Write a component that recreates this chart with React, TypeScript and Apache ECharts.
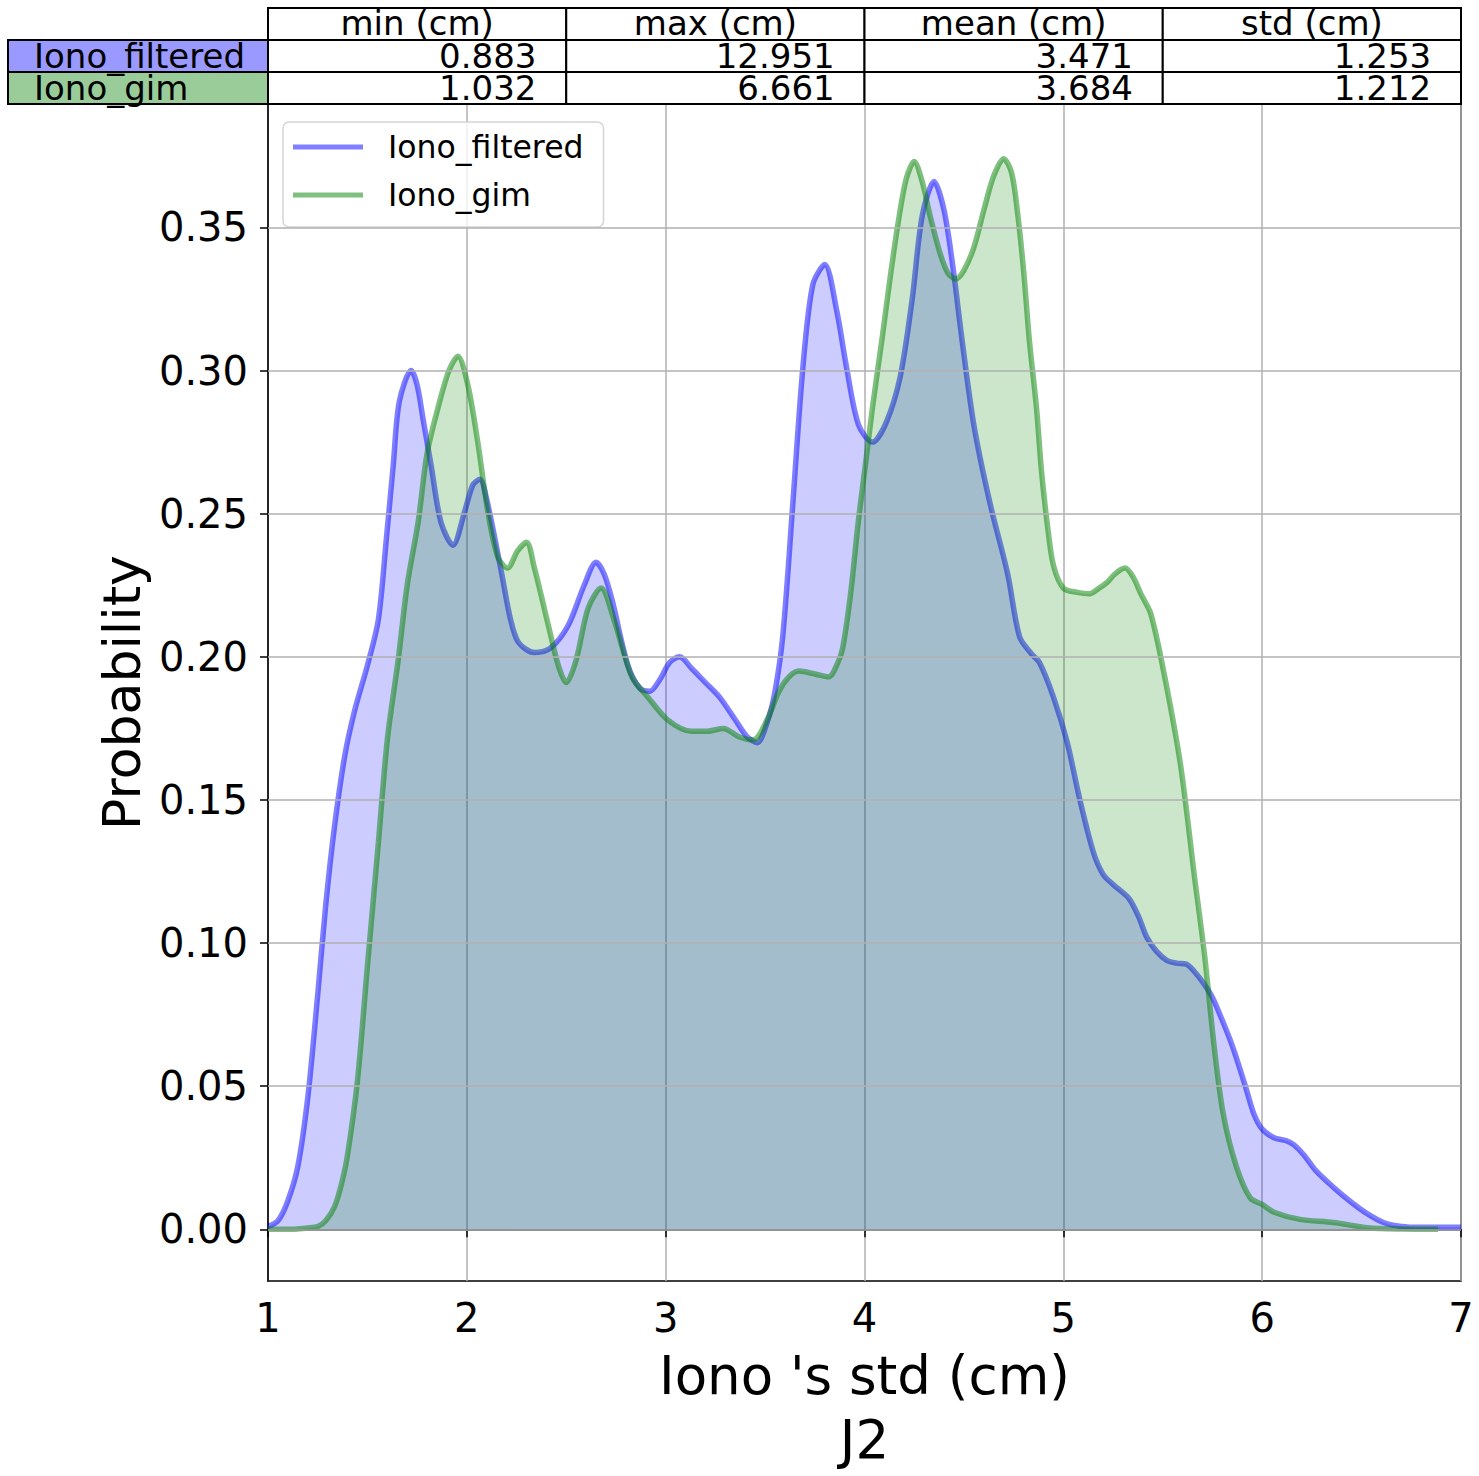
import React, { useEffect, useRef } from "react";
import * as echarts from "echarts";

// ---- data ----
const filteredX = [1.00, 1.05, 1.10, 1.15, 1.20, 1.25, 1.29, 1.335, 1.385, 1.435, 1.50, 1.555, 1.595, 1.63, 1.66, 1.72, 1.75, 1.78, 1.82, 1.87, 1.93, 1.99, 2.03, 2.065, 2.10, 2.17, 2.22, 2.26, 2.34, 2.42, 2.51, 2.59, 2.65, 2.69, 2.73, 2.81, 2.87, 2.92, 2.97, 3.02, 3.07, 3.13, 3.20, 3.27, 3.35, 3.41, 3.46, 3.51, 3.55, 3.59, 3.64, 3.69, 3.74, 3.80, 3.86, 3.91, 3.97, 4.04, 4.11, 4.18, 4.24, 4.29, 4.35, 4.40, 4.445, 4.49, 4.55, 4.63, 4.72, 4.78, 4.84, 4.88, 4.95, 5.02, 5.08, 5.15, 5.20, 5.25, 5.33, 5.38, 5.42, 5.47, 5.52, 5.57, 5.62, 5.66, 5.705, 5.75, 5.79, 5.84, 5.87, 5.92, 5.96, 6.00, 6.06, 6.12, 6.16, 6.21, 6.27, 6.36, 6.45, 6.53, 6.61, 6.70, 6.80, 7.00];
const filteredY = [0.001, 0.003, 0.010, 0.022, 0.046, 0.082, 0.113, 0.141, 0.165, 0.181, 0.197, 0.213, 0.241, 0.267, 0.289, 0.300, 0.295, 0.283, 0.267, 0.247, 0.239, 0.251, 0.260, 0.262, 0.255, 0.231, 0.213, 0.205, 0.2015, 0.203, 0.211, 0.225, 0.233, 0.229, 0.220, 0.197, 0.189, 0.188, 0.192, 0.198, 0.200, 0.196, 0.191, 0.186, 0.178, 0.172, 0.170, 0.177, 0.188, 0.208, 0.254, 0.301, 0.330, 0.337, 0.321, 0.301, 0.281, 0.275, 0.282, 0.298, 0.325, 0.354, 0.366, 0.356, 0.336, 0.311, 0.281, 0.254, 0.229, 0.207, 0.201, 0.198, 0.186, 0.170, 0.151, 0.132, 0.124, 0.1205, 0.1156, 0.109, 0.102, 0.097, 0.094, 0.093, 0.0926, 0.090, 0.086, 0.081, 0.0746, 0.066, 0.060, 0.049, 0.040, 0.035, 0.032, 0.031, 0.0295, 0.026, 0.0205, 0.0146, 0.0094, 0.0054, 0.0024, 0.001, 0.0007, 0.0007];

const gimX = [1.00, 1.10, 1.20, 1.25, 1.29, 1.335, 1.37, 1.40, 1.45, 1.50, 1.555, 1.60, 1.655, 1.70, 1.755, 1.80, 1.855, 1.91, 1.955, 2.005, 2.055, 2.105, 2.155, 2.205, 2.255, 2.30, 2.34, 2.41, 2.46, 2.50, 2.55, 2.61, 2.675, 2.74, 2.83, 2.91, 3.01, 3.13, 3.21, 3.29, 3.37, 3.44, 3.51, 3.57, 3.62, 3.67, 3.75, 3.82, 3.86, 3.89, 3.93, 3.97, 4.01, 4.04, 4.09, 4.13, 4.17, 4.21, 4.25, 4.29, 4.33, 4.38, 4.42, 4.46, 4.50, 4.55, 4.60, 4.65, 4.70, 4.74, 4.77, 4.80, 4.83, 4.865, 4.89, 4.92, 4.95, 5.00, 5.07, 5.13, 5.18, 5.22, 5.26, 5.31, 5.35, 5.39, 5.44, 5.51, 5.59, 5.66, 5.71, 5.76, 5.805, 5.87, 5.94, 6.00, 6.06, 6.19, 6.36, 6.53, 6.70, 6.885];
const gimY = [0.000, 0.000, 0.0005, 0.001, 0.003, 0.008, 0.016, 0.026, 0.052, 0.092, 0.135, 0.171, 0.199, 0.225, 0.247, 0.271, 0.287, 0.300, 0.305, 0.295, 0.275, 0.251, 0.235, 0.231, 0.237, 0.240, 0.231, 0.211, 0.197, 0.191, 0.199, 0.217, 0.224, 0.213, 0.193, 0.186, 0.178, 0.174, 0.174, 0.175, 0.172, 0.171, 0.178, 0.188, 0.193, 0.195, 0.194, 0.193, 0.197, 0.203, 0.222, 0.248, 0.270, 0.287, 0.312, 0.333, 0.352, 0.367, 0.373, 0.366, 0.354, 0.341, 0.334, 0.332, 0.335, 0.343, 0.356, 0.368, 0.374, 0.369, 0.355, 0.335, 0.310, 0.287, 0.265, 0.246, 0.232, 0.224, 0.2225, 0.222, 0.224, 0.226, 0.229, 0.231, 0.228, 0.222, 0.215, 0.193, 0.162, 0.123, 0.096, 0.063, 0.040, 0.022, 0.011, 0.0087, 0.006, 0.0035, 0.0024, 0.0006, 0.0001, 0.0];

const seriesNames = ["Iono_filtered", "Iono_gim"];
const yTickValues = [0, 0.05, 0.1, 0.15, 0.2, 0.25, 0.3, 0.35];
const tableColumns = ["min (cm)", "max (cm)", "mean (cm)", "std (cm)"];
const filteredStats = ["0.883", "12.951", "3.471", "1.253"];
const gimStats = ["1.032", "6.661", "3.684", "1.212"];
const xAxisTitle = "Iono 's std (cm)\nJ2";
const yAxisTitle = "Probability";

const FONT = '"DejaVu Sans", Arial, sans-serif';

function zip(xs: number[], ys: number[]) {
  return xs.map((x, i) => [x, ys[i]]);
}

function buildTable() {
  const children: any[] = [];
  const colLeft = 268;
  const colRight = 1461;
  const labelLeft = 8;
  const rowTops = [8, 40, 72];
  const rowH = 32;
  const colW = (colRight - colLeft) / tableColumns.length;
  const fontSize = 34;
  const border = { stroke: "#000", lineWidth: 2 };
  const txt = (text: string, x: number, y: number, align: string) => ({
    type: "text", x, y, z: 101,
    style: { text, fill: "#000", fontSize, fontFamily: FONT, align, verticalAlign: "middle", textAlign: align, textVerticalAlign: "middle", lineHeight: 30 },
  });
  tableColumns.forEach((c, i) => {
    const x = colLeft + i * colW;
    children.push({ type: "rect", shape: { x, y: rowTops[0], width: colW, height: rowH }, style: { fill: "#fff", ...border }, z: 100 });
    children.push(txt(c, x + colW / 2, rowTops[0] + rowH / 2 - 1, "center"));
  });
  const rows = [
    { label: seriesNames[0], color: "#9999ff", vals: filteredStats },
    { label: seriesNames[1], color: "#99cc99", vals: gimStats },
  ];
  rows.forEach((r, ri) => {
    const y = rowTops[ri + 1];
    children.push({ type: "rect", shape: { x: labelLeft, y, width: colLeft - labelLeft, height: rowH }, style: { fill: r.color, ...border }, z: 100 });
    children.push(txt(r.label, labelLeft + 0.1 * (colLeft - labelLeft), y + rowH / 2, "left"));
    r.vals.forEach((v, ci) => {
      const x = colLeft + ci * colW;
      children.push({ type: "rect", shape: { x, y, width: colW, height: rowH }, style: { fill: "#fff", ...border }, z: 100 });
      children.push(txt(v, x + colW * 0.9, y + rowH / 2, "right"));
    });
  });
  return children;
}

export default function App() {
  const ref = useRef<HTMLDivElement>(null);
  useEffect(() => {
    if (!ref.current) return;
    const chart = echarts.init(ref.current, null, { renderer: "svg" });
    const gridLineStyle = { color: "#b0b0b0", width: 1.5, type: "solid" as const };
    const option: any = {
      animation: false,
      backgroundColor: "#fff",
      textStyle: { fontFamily: FONT },
      grid: {
        left: 268, right: 18, top: 104, bottom: 189,
        show: true, borderColor: "#000", borderWidth: 1.5, backgroundColor: "transparent",
      },
      legend: {
        orient: "vertical",
        left: 283, top: 122,
        padding: [9, 20, 16, 10],
        itemGap: 16,
        itemWidth: 70, itemHeight: 5,
        icon: "rect",
        backgroundColor: "rgba(255,255,255,0.8)",
        borderColor: "#d5d5d5", borderWidth: 1.5, borderRadius: 6,
        textStyle: { fontSize: 31.5, fontFamily: FONT, color: "#000", padding: [0, 0, 0, 20], lineHeight: 31 },
        data: seriesNames,
      },
      xAxis: {
        type: "value", min: 1, max: 7, interval: 1,
        name: xAxisTitle, nameLocation: "middle", nameGap: 60,
        nameTextStyle: { fontSize: 53, fontFamily: FONT, color: "#000", lineHeight: 64, verticalAlign: "top" },
        axisLine: { show: true, lineStyle: { color: "#000", width: 1.5 } },
        axisTick: { show: true, inside: false, length: 8, lineStyle: { color: "#000", width: 1.5 } },
        axisLabel: { fontSize: 40, fontFamily: FONT, color: "#000", margin: 17 },
        splitLine: { show: true, lineStyle: gridLineStyle },
      },
      yAxis: {
        type: "value", min: -0.01807, max: 0.3931,
        name: yAxisTitle, nameLocation: "middle", nameGap: 117,
        nameTextStyle: { fontSize: 52, fontFamily: FONT, color: "#000" },
        axisLine: { show: true, lineStyle: { color: "#000", width: 1.5 } },
        axisTick: { show: true, inside: false, length: 8, customValues: yTickValues, lineStyle: { color: "#000", width: 1.5 } },
        axisLabel: { fontSize: 40, fontFamily: FONT, color: "#000", margin: 20, customValues: yTickValues, formatter: (v: number) => v.toFixed(2) },
        splitLine: { show: false },
      },
      series: [
        {
          name: seriesNames[0], type: "line", data: zip(filteredX, filteredY),
          smooth: 0.3, showSymbol: false, symbol: "none",
          color: "rgba(0,0,255,0.5)",
          lineStyle: { color: "rgba(0,0,255,0.5)", width: 5.5 },
          areaStyle: { color: "rgba(0,0,255,0.2)", opacity: 1, origin: 0 },
          markLine: {
            silent: true, symbol: "none", label: { show: false },
            lineStyle: gridLineStyle,
            data: yTickValues.map((v) => ({ yAxis: v })),
          },
          z: 2,
        },
        {
          name: seriesNames[1], type: "line", data: zip(gimX, gimY),
          smooth: 0.3, showSymbol: false, symbol: "none",
          color: "rgba(0,128,0,0.5)",
          lineStyle: { color: "rgba(0,128,0,0.5)", width: 5.5 },
          areaStyle: { color: "rgba(0,128,0,0.2)", opacity: 1, origin: 0 },
          z: 3,
        },
      ],
      graphic: { elements: buildTable() },
    };
    chart.setOption(option);
    return () => chart.dispose();
  }, []);
  return (
    <div
      ref={ref}
      style={{ position: "fixed", left: 0, top: 0, width: 1479, height: 1476, background: "#fff" }}
    />
  );
}
